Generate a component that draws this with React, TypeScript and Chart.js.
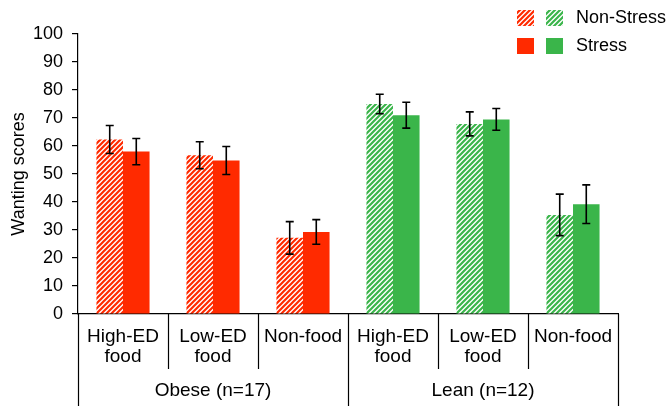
import React, { useEffect, useRef } from "react";
import { Chart, registerables } from "chart.js";

Chart.register(...registerables);

const categories: string[][] = [
  ["High-ED", "food"],
  ["Low-ED", "food"],
  ["Non-food"],
  ["High-ED", "food"],
  ["Low-ED", "food"],
  ["Non-food"],
];
const groupLabels = ["Obese (n=17)", "Lean (n=12)"];
const groupSizes = [3, 3];

const nonStress = [62.3, 56.7, 27.2, 75.0, 67.9, 35.4];
const nonStressErr = [5.0, 4.8, 5.8, 3.5, 4.3, 7.4];
const stress = [58.0, 54.8, 29.3, 71.0, 69.5, 39.2];
const stressErr = [4.7, 5.0, 4.4, 4.6, 3.9, 6.9];

const yTicks = [0, 10, 20, 30, 40, 50, 60, 70, 80, 90, 100];

const RED = "#FF2A00";
const GREEN = "#3AB54A";
const FONT = "'Liberation Sans', Arial, sans-serif";

function hatch(color: string): CanvasPattern | string {
  const s = 5;
  const c = document.createElement("canvas");
  c.width = s;
  c.height = s;
  const g = c.getContext("2d");
  if (!g) return color;
  g.fillStyle = "#ffffff";
  g.fillRect(0, 0, s, s);
  g.strokeStyle = color;
  g.lineWidth = 2.2;
  g.beginPath();
  g.moveTo(-1, s + 1);
  g.lineTo(s + 1, -1);
  g.moveTo(-1, 1);
  g.lineTo(1, -1);
  g.moveTo(s - 1, s + 1);
  g.lineTo(s + 1, s - 1);
  g.stroke();
  return g.createPattern(c, "repeat") || color;
}

export default function App() {
  const ref = useRef<HTMLCanvasElement | null>(null);

  useEffect(() => {
    if (!ref.current) return;
    const redH = hatch(RED);
    const greenH = hatch(GREEN);
    const groupColors = (a: any, b: any) =>
      categories.map((_, i) => (i < groupSizes[0] ? a : b));

    const errs = [nonStressErr, stressErr];
    const vals = [nonStress, stress];

    const errorBars = {
      id: "errorBars",
      afterDatasetsDraw(chart: any) {
        const ctx = chart.ctx;
        const y = chart.scales.y;
        ctx.save();
        ctx.strokeStyle = "#000";
        ctx.lineWidth = 1.6;
        for (let d = 0; d < 2; d++) {
          const meta = chart.getDatasetMeta(d);
          meta.data.forEach((bar: any, i: number) => {
            const x = bar.x;
            const t = y.getPixelForValue(vals[d][i] + errs[d][i]);
            const b = y.getPixelForValue(vals[d][i] - errs[d][i]);
            ctx.beginPath();
            ctx.moveTo(x, t);
            ctx.lineTo(x, b);
            ctx.moveTo(x - 4, t);
            ctx.lineTo(x + 4, t);
            ctx.moveTo(x - 4, b);
            ctx.lineTo(x + 4, b);
            ctx.stroke();
          });
        }
        ctx.restore();
      },
    };

    const axisDecor = {
      id: "axisDecor",
      afterDraw(chart: any) {
        const ctx = chart.ctx;
        const x = chart.scales.x;
        const bottom = chart.chartArea.bottom;
        const H = chart.height;
        ctx.save();
        ctx.strokeStyle = "#000";
        ctx.lineWidth = 1.2;
        let idx = 0;
        const groupBounds: number[] = [0];
        groupSizes.forEach((n) => {
          idx += n;
          groupBounds.push(idx);
        });
        for (let i = 0; i <= categories.length; i++) {
          const px = Math.round(x.getPixelForValue(i - 0.5)) + 0.5;
          const isGroup = groupBounds.includes(i);
          ctx.beginPath();
          ctx.moveTo(px, bottom);
          ctx.lineTo(px, isGroup ? H : bottom + 55);
          ctx.stroke();
        }
        ctx.fillStyle = "#000";
        ctx.font = "19px " + FONT;
        ctx.textAlign = "center";
        ctx.textBaseline = "middle";
        for (let g = 0; g < groupLabels.length; g++) {
          const l = x.getPixelForValue(groupBounds[g] - 0.5);
          const r = x.getPixelForValue(groupBounds[g + 1] - 0.5);
          ctx.fillText(groupLabels[g], (l + r) / 2, bottom + 77);
        }
        const rows = [
          { label: "Non-Stress", a: redH, b: greenH, y: 10 },
          { label: "Stress", a: RED, b: GREEN, y: 38 },
        ];
        ctx.font = "18px " + FONT;
        ctx.textAlign = "left";
        rows.forEach((r) => {
          ctx.fillStyle = r.a;
          ctx.fillRect(517, r.y, 17, 16);
          ctx.fillStyle = r.b;
          ctx.fillRect(546, r.y, 17, 16);
          ctx.fillStyle = "#000";
          ctx.fillText(r.label, 576, r.y + 8);
        });
        ctx.restore();
      },
    };

    const chart = new Chart(ref.current, {
      type: "bar",
      data: {
        labels: categories as any,
        datasets: [
          {
            label: "Non-Stress",
            data: nonStress,
            backgroundColor: groupColors(redH, greenH),
            borderWidth: 0,
          },
          {
            label: "Stress",
            data: stress,
            backgroundColor: groupColors(RED, GREEN),
            borderWidth: 0,
          },
        ],
      },
      options: {
        animation: false,
        responsive: false,
        devicePixelRatio: window.devicePixelRatio || 1,
        layout: { padding: { top: 34, left: 8, right: 50, bottom: 0 } },
        plugins: {
          legend: { display: false },
          tooltip: { enabled: false },
        },
        datasets: {
          bar: { categoryPercentage: 0.59, barPercentage: 1.0 },
        },
        scales: {
          x: {
            type: "category",
            offset: true,
            grid: { display: false, drawTicks: false },
            border: { display: true, color: "#000", width: 1.2 },
            ticks: {
              color: "#000",
              font: { family: FONT, size: 19, lineHeight: 1.05 },
              padding: 13,
              maxRotation: 0,
              minRotation: 0,
              autoSkip: false,
            },
            afterFit(scale: any) {
              scale.height = 92;
            },
          },
          y: {
            min: 0,
            max: 100,
            afterBuildTicks(scale: any) {
              scale.ticks = yTicks.map((v) => ({ value: v }));
            },
            grid: {
              display: true,
              drawOnChartArea: false,
              drawTicks: true,
              tickLength: 6,
              color: "#000",
              lineWidth: 1.2,
            },
            border: { display: true, color: "#000", width: 1.2 },
            ticks: {
              color: "#000",
              font: { family: FONT, size: 18 },
              padding: 9,
            },
            title: {
              display: true,
              text: "Wanting scores",
              color: "#000",
              font: { family: FONT, size: 18 },
              padding: 0,
            },
            afterFit(scale: any) {
              scale.width = 70;
            },
          },
        },
      },
      plugins: [errorBars, axisDecor],
    });
    return () => chart.destroy();
  }, []);

  return (
    <div style={{ position: "absolute", left: 0, top: 0, width: 668, height: 406, background: "#fff" }}>
      <canvas ref={ref} width={668} height={406} style={{ display: "block", width: 668, height: 406 }} />
    </div>
  );
}
